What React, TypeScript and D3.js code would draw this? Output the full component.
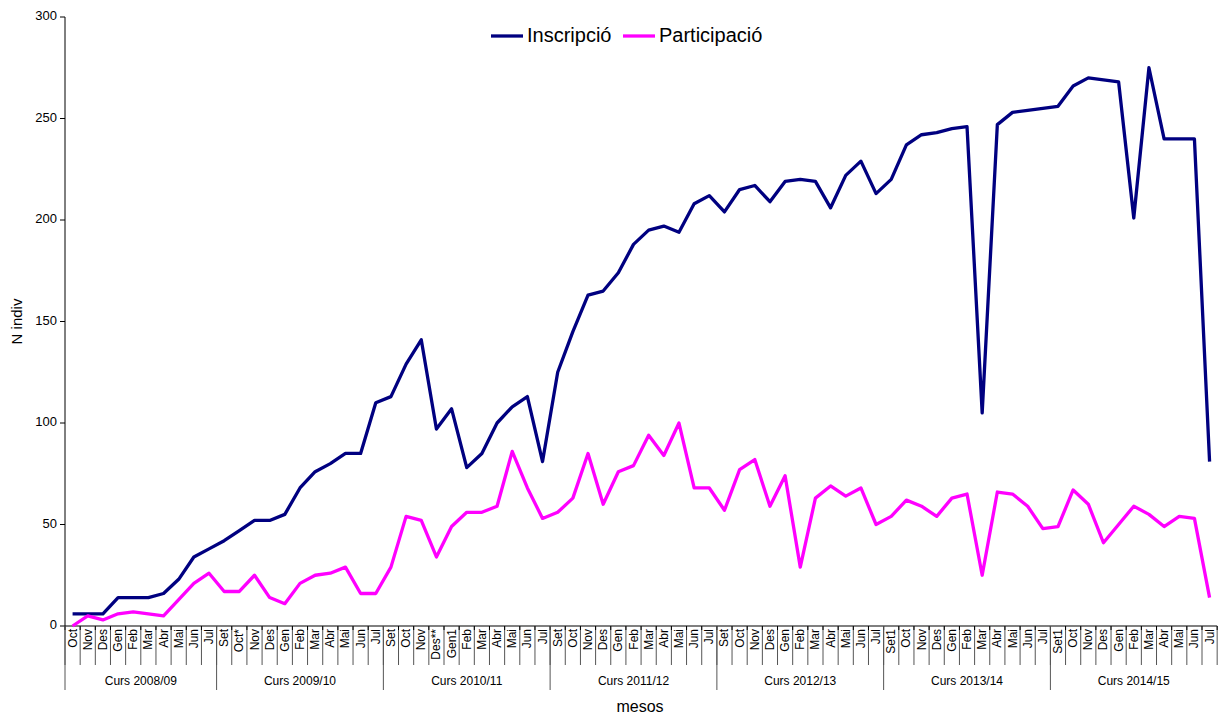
import React from "react";
import * as d3 from "d3";

const months: string[] = [
  "Oct", "Nov", "Des", "Gen", "Feb", "Mar", "Abr", "Mai", "Jun", "Jul",
  "Set", "Oct*", "Nov", "Des", "Gen", "Feb", "Mar", "Abr", "Mai", "Jun", "Jul",
  "Set", "Oct", "Nov", "Des**", "Gen1", "Feb", "Mar", "Abr", "Mai", "Jun", "Jul",
  "Set", "Oct", "Nov", "Des", "Gen", "Feb", "Mar", "Abr", "Mai", "Jun", "Jul",
  "Set", "Oct", "Nov", "Des", "Gen", "Feb", "Mar", "Abr", "Mai", "Jun", "Jul",
  "Set1", "Oct", "Nov", "Des", "Gen", "Feb", "Mar", "Abr", "Mai", "Jun", "Jul",
  "Set1", "Oct", "Nov", "Des", "Gen", "Feb", "Mar", "Abr", "Mai", "Jun", "Jul",
];

const courses: string[] = [
  "Curs 2008/09", "Curs 2009/10", "Curs 2010/11", "Curs 2011/12",
  "Curs 2012/13", "Curs 2013/14", "Curs 2014/15",
];
const courseLengths: number[] = [10, 11, 11, 11, 11, 11, 11];

const inscripcio: number[] = [
  6, 6, 6, 14, 14, 14, 16, 23, 34, 38,
  42, 47, 52, 52, 55, 68, 76, 80, 85, 85, 110,
  113, 129, 141, 97, 107, 78, 85, 100, 108, 113, 81,
  125, 145, 163, 165, 174, 188, 195, 197, 194, 208, 212,
  204, 215, 217, 209, 219, 220, 219, 206, 222, 229, 213,
  220, 237, 242, 243, 245, 246, 105, 247, 253, 254, 255,
  256, 266, 270, 269, 268, 201, 275, 240, 240, 240, 81,
];

const participacio: number[] = [
  0, 5, 3, 6, 7, 6, 5, 13, 21, 26,
  17, 17, 25, 14, 11, 21, 25, 26, 29, 16, 16,
  29, 54, 52, 34, 49, 56, 56, 59, 86, 68, 53,
  56, 63, 85, 60, 76, 79, 94, 84, 100, 68, 68,
  57, 77, 82, 59, 74, 29, 63, 69, 64, 68, 50,
  54, 62, 59, 54, 63, 65, 25, 66, 65, 59, 48,
  49, 67, 60, 41, 50, 59, 55, 49, 54, 53, 14,
];

const yTicks: number[] = [0, 50, 100, 150, 200, 250, 300];

const W = 1219;
const H = 717;
const left = 65;
const catW = 15.16;
const right = left + months.length * catW;
const top = 17;
const bottom = 626;
const font = "'Liberation Sans', Arial, sans-serif";

export default function App() {
  const idx = months.map((_, i) => i);
  const x = d3.scaleBand<number>().domain(idx).range([left, right]).padding(0);
  const y = d3.scaleLinear().domain([0, 300]).range([bottom, top]);
  const cx = (i: number) => (x(i) as number) + x.bandwidth() / 2;

  const line = d3
    .line<number>()
    .x((_, i) => cx(i))
    .y((d) => y(d));

  const starts: number[] = [];
  let acc = 0;
  courseLengths.forEach((n) => {
    starts.push(acc);
    acc += n;
  });

  return (
    <div style={{ position: "absolute", left: 0, top: 0 }}>
      <svg width={W} height={H} style={{ display: "block", background: "#fff" }}>
        {/* y axis */}
        <line x1={left} x2={left} y1={top} y2={bottom} stroke="#000" strokeWidth={1} />
        {yTicks.map((t) => (
          <g key={t}>
            <line x1={left - 5} x2={left} y1={y(t)} y2={y(t)} stroke="#000" />
            <text
              x={left - 8}
              y={y(t)}
              textAnchor="end"
              dominantBaseline="middle"
              fontFamily={font}
              fontSize={13}
            >
              {t}
            </text>
          </g>
        ))}
        <text
          transform={`translate(22,${(top + bottom) / 2}) rotate(-90)`}
          textAnchor="middle"
          fontFamily={font}
          fontSize={15}
        >
          N indiv
        </text>

        {/* x axis */}
        <line x1={left} x2={right} y1={bottom} y2={bottom} stroke="#000" strokeWidth={1} />
        {d3.range(months.length + 1).map((i) => {
          const xx = left + i * x.bandwidth();
          return (
            <g key={"sep" + i}>
              <line x1={xx} x2={xx} y1={bottom} y2={665} stroke="#555" strokeWidth={1} />
              <line x1={xx} x2={xx} y1={bottom} y2={bottom + 4} stroke="#000" strokeWidth={1} />
            </g>
          );
        })}
        {months.map((m, i) => (
          <text
            key={"m" + i}
            transform={`translate(${cx(i)},${bottom + 3}) rotate(-90)`}
            textAnchor="end"
            dominantBaseline="central"
            fontFamily={font}
            fontSize={12}
          >
            {m}
          </text>
        ))}
        {starts.map((s, k) => {
          const xx = left + s * x.bandwidth();
          return (
            <line key={"g" + k} x1={xx} x2={xx} y1={bottom} y2={690} stroke="#555" strokeWidth={1} />
          );
        })}
        {courses.map((c, k) => {
          const mid = left + (starts[k] + courseLengths[k] / 2) * x.bandwidth();
          return (
            <text
              key={"c" + k}
              x={mid}
              y={685}
              textAnchor="middle"
              fontFamily={font}
              fontSize={12}
            >
              {c}
            </text>
          );
        })}
        <text x={640} y={712} textAnchor="middle" fontFamily={font} fontSize={16}>
          mesos
        </text>

        {/* lines */}
        <path d={line(inscripcio) || ""} fill="none" stroke="#000080" strokeWidth={3.3} strokeLinejoin="round" />
        <path d={line(participacio) || ""} fill="none" stroke="#FF00FF" strokeWidth={3.3} strokeLinejoin="round" />

        {/* legend */}
        <line x1={491} x2={523} y1={36} y2={36} stroke="#000080" strokeWidth={3.3} />
        <text x={527} y={37} dominantBaseline="middle" fontFamily={font} fontSize={20}>
          Inscripció
        </text>
        <line x1={623} x2={655} y1={36} y2={36} stroke="#FF00FF" strokeWidth={3.3} />
        <text x={659} y={37} dominantBaseline="middle" fontFamily={font} fontSize={20}>
          Participació
        </text>
      </svg>
    </div>
  );
}
